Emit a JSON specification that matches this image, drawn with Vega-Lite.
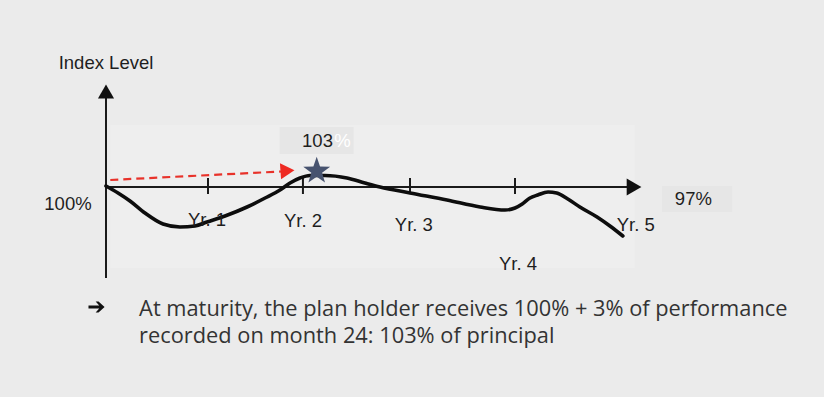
{
  "$schema": "https://vega.github.io/schema/vega-lite/v6.json",
  "autosize": {"type": "fit", "contains": "padding"},
  "width": 824,
  "height": 397,
  "padding": 0,
  "background": "#ebebeb",
  "config": {"view": {"stroke": null}},
  "datasets": {
    "area": [{"m": 0.5, "m2": 61.5, "v": 112.4, "v2": 83.8}],
    "boxes": [
      {"m": 20.2, "m2": 28.8, "v": 112.0, "v2": 106.6},
      {"m": 64.65, "m2": 72.8, "v": 100.2, "v2": 95}
    ],
    "axes": [
      {"m": 0, "m2": 60.6, "v": 100, "v2": 100},
      {"m": 0, "m2": 0, "v": 81.8, "v2": 118}
    ],
    "ticks": [
      {"m": 11.86, "v": 101.8, "v2": 98.6},
      {"m": 22.9, "v": 101.8, "v2": 98.6},
      {"m": 35.35, "v": 101.8, "v2": 98.6},
      {"m": 47.56, "v": 101.8, "v2": 98.6}
    ],
    "hhead": [{"m": 61.4, "v": 100}],
    "vhead": [{"m": 0, "v": 119.1}],
    "redline": [{"m": 0.5, "v": 101.4}, {"m": 20.4, "v": 103.1}],
    "redhead": [{"m": 21.1, "v": 103.25}],
    "curve": [
      {"m": 0, "v": 100.2},
      {"m": 1.4, "v": 98.8},
      {"m": 2.79, "v": 97.2},
      {"m": 4.53, "v": 94.8},
      {"m": 6.63, "v": 92.6},
      {"m": 8.6, "v": 92.0},
      {"m": 10.35, "v": 92.2},
      {"m": 11.74, "v": 93.0},
      {"m": 13.84, "v": 94.2},
      {"m": 16.4, "v": 96.0},
      {"m": 18.5, "v": 97.8},
      {"m": 20.23, "v": 99.4},
      {"m": 21.4, "v": 100.8},
      {"m": 22.56, "v": 101.8},
      {"m": 23.7, "v": 102.3},
      {"m": 25.47, "v": 102.3},
      {"m": 28.02, "v": 101.8},
      {"m": 30.1, "v": 100.8},
      {"m": 31.86, "v": 100.0},
      {"m": 35.35, "v": 98.8},
      {"m": 39.65, "v": 97.4},
      {"m": 43.5, "v": 96.0},
      {"m": 46.4, "v": 95.4},
      {"m": 47.56, "v": 95.8},
      {"m": 48.4, "v": 96.6},
      {"m": 49.3, "v": 97.8},
      {"m": 50.2, "v": 98.4},
      {"m": 51.4, "v": 99.0},
      {"m": 52.4, "v": 98.8},
      {"m": 53.7, "v": 97.6},
      {"m": 55.1, "v": 96.0},
      {"m": 57.1, "v": 94.0},
      {"m": 58.6, "v": 92.2},
      {"m": 60.1, "v": 90.2}
    ],
    "star": [{"m": 24.5, "v": 103.2}],
    "labels": [
      {"m": 0, "v": 124.8, "t": "Index Level"},
      {"m": -4.42, "v": 96.6, "t": "100%"},
      {"m": 68.3, "v": 97.6, "t": "97%"},
      {"m": 11.74, "v": 93.4, "t": "Yr. 1"},
      {"m": 22.9, "v": 93.2, "t": "Yr. 2"},
      {"m": 35.8, "v": 92.4, "t": "Yr. 3"},
      {"m": 47.9, "v": 84.6, "t": "Yr. 4"},
      {"m": 61.6, "v": 92.4, "t": "Yr. 5"}
    ],
    "l103": [{"m": 22.8, "v": 109.2, "t": "103"}],
    "lpct": [{"m": 26.55, "v": 109.2, "t": "%"}],
    "barrow": [{"m": -1.1, "v": 76.0}],
    "note": [
      {"m": 3.85, "v": 75.6, "t": "At maturity, the plan holder receives 100% + 3% of performance"},
      {"m": 3.85, "v": 70.2, "t": "recorded on month 24: 103% of principal"}
    ]
  },
  "encoding": {
    "x": {"field": "m", "type": "quantitative", "scale": {"domain": [-12.326, 83.488], "nice": false, "zero": false}, "axis": null},
    "y": {"field": "v", "type": "quantitative", "scale": {"domain": [58, 137.4], "nice": false, "zero": false}, "axis": null}
  },
  "layer": [
    {"data": {"name": "area"}, "mark": {"type": "rect", "fill": "#eeeeee"},
     "encoding": {"x2": {"field": "m2"}, "y2": {"field": "v2"}}},
    {"data": {"name": "boxes"}, "mark": {"type": "rect", "fill": "#e6e6e6"},
     "encoding": {"x2": {"field": "m2"}, "y2": {"field": "v2"}}},
    {"data": {"name": "axes"}, "mark": {"type": "rule", "stroke": "#1a1a1a", "strokeWidth": 2},
     "encoding": {"x2": {"field": "m2"}, "y2": {"field": "v2"}}},
    {"data": {"name": "ticks"}, "mark": {"type": "rule", "stroke": "#1a1a1a", "strokeWidth": 2},
     "encoding": {"y2": {"field": "v2"}}},
    {"data": {"name": "hhead"}, "mark": {"type": "point", "shape": "triangle-right", "filled": true, "fill": "#111", "size": 290, "opacity": 1}},
    {"data": {"name": "vhead"}, "mark": {"type": "point", "shape": "triangle-up", "filled": true, "fill": "#111", "size": 260, "opacity": 1}},
    {"data": {"name": "redline"}, "mark": {"type": "line", "stroke": "#e8322a", "strokeWidth": 2.2, "strokeDash": [8, 5]}},
    {"data": {"name": "redhead"}, "mark": {"type": "point", "shape": "triangle-right", "filled": true, "fill": "#ee2a22", "size": 260, "opacity": 1, "angle": -4}},
    {"data": {"name": "curve"}, "mark": {"type": "line", "stroke": "#0d0d0d", "strokeWidth": 3.6, "interpolate": "monotone", "strokeCap": "round"}},
    {"data": {"name": "star"}, "mark": {"type": "point", "shape": "M0,-1L0.235,-0.324L0.951,-0.309L0.380,0.124L0.588,0.809L0,0.4L-0.588,0.809L-0.380,0.124L-0.951,-0.309L-0.235,-0.324Z", "filled": true, "fill": "#47536f", "size": 800, "opacity": 1}},
    {"data": {"name": "barrow"}, "mark": {"type": "point", "shape": "M-0.9,-0.16L0.3,-0.16L-0.1,-0.62L0.22,-0.62L0.9,0L0.22,0.62L-0.1,0.62L0.3,0.16L-0.9,0.16Z", "filled": true, "fill": "#111", "size": 320, "opacity": 1}},
    {"data": {"name": "labels"}, "mark": {"type": "text", "font": "Liberation Sans", "fontSize": 18.5, "fill": "#1e1e1e", "align": "center", "baseline": "middle"},
     "encoding": {"text": {"field": "t"}}},
    {"data": {"name": "l103"}, "mark": {"type": "text", "font": "Liberation Sans", "fontSize": 18.5, "fill": "#1e1e1e", "align": "left", "baseline": "middle"},
     "encoding": {"text": {"field": "t"}}},
    {"data": {"name": "lpct"}, "mark": {"type": "text", "font": "Liberation Sans", "fontSize": 18.5, "fill": "#ffffff", "align": "left", "baseline": "middle"},
     "encoding": {"text": {"field": "t"}}},
    {"data": {"name": "note"}, "mark": {"type": "text", "font": "Open Sans", "fontSize": 21.8, "fill": "#333333", "align": "left", "baseline": "middle"},
     "encoding": {"text": {"field": "t"}}}
  ]
}
